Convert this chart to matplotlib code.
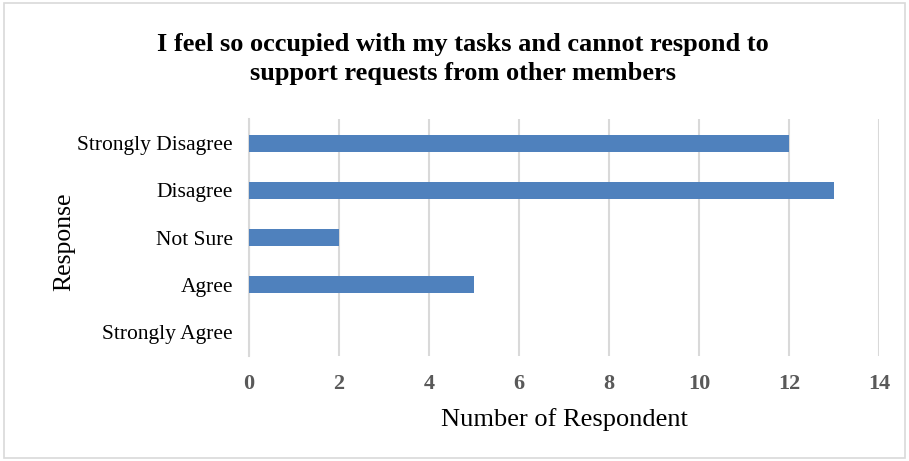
import matplotlib
matplotlib.use("Agg")
import matplotlib.pyplot as plt
from matplotlib.patches import Rectangle

# Survey responses (top to bottom as displayed)
categories = ["Strongly Disagree", "Disagree", "Not Sure", "Agree", "Strongly Agree"]
counts = [12, 13, 2, 5, 0]
x_ticks = [0, 2, 4, 6, 8, 10, 12, 14]

title = "I feel so occupied with my tasks and cannot respond to\nsupport requests from other members"
x_label = "Number of Respondent"
y_label = "Response"

plt.rcParams["font.family"] = ["Liberation Serif", "DejaVu Serif"]

fig = plt.figure(figsize=(9.09, 4.61), dpi=100)
fig.patch.set_facecolor("white")

# light frame around the chart
fig.patches.append(Rectangle((4 / 909, 3 / 461), 901 / 909, 455 / 461,
                             transform=fig.transFigure, fill=False,
                             edgecolor="#D9D9D9", linewidth=1.2))

ax = fig.add_axes([249 / 909, 1 - 355.6 / 461, (879 - 249) / 909, (355.6 - 119.4) / 461])

y_pos = list(range(len(categories)))
ax.barh(y_pos, counts, height=0.36, color="#4F81BD", zorder=3)

ax.set_xlim(0, 14)
ax.set_ylim(len(categories) - 0.5, -0.5)
ax.set_yticks(y_pos)
ax.set_yticklabels(categories, fontsize=15.5, color="black")
ax.set_xticks(x_ticks)
ax.set_xticklabels([str(t) for t in x_ticks], fontsize=16, fontweight="bold", color="#595959")

ax.tick_params(axis="both", length=0)
ax.tick_params(axis="x", pad=13)
ax.tick_params(axis="y", pad=11.5)

ax.grid(axis="x", color="#D9D9D9", linewidth=1.5, zorder=0)
for side in ["top", "right", "bottom"]:
    ax.spines[side].set_visible(False)
ax.spines["left"].set_color("#D9D9D9")
ax.spines["left"].set_linewidth(1.5)

ax.set_xlabel(x_label, fontsize=19, labelpad=10)
ax.set_ylabel(y_label, fontsize=18.5)
ax.yaxis.set_label_coords(-0.276, 0.481)

fig.text(463 / 909, 1 - 59 / 461, title, ha="center", va="center",
         fontsize=19, fontweight="bold", linespacing=1.28)

fig.savefig("out.png", dpi=100)
